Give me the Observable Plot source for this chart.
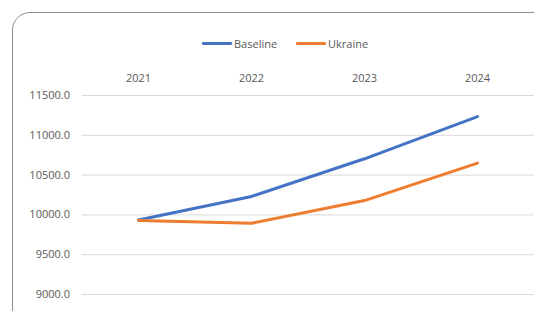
<!DOCTYPE html>
<html>
<head>
<meta charset="utf-8">
<script src="https://cdn.jsdelivr.net/npm/d3@7"></script>
<script src="https://cdn.jsdelivr.net/npm/@observablehq/plot@0.6"></script>
<style>
  html, body { margin: 0; padding: 0; background: #fff; overflow: hidden; }
  #wrap { position: relative; width: 534px; height: 311px; overflow: hidden; font-family: "Open Sans", sans-serif; }
  #card { position: absolute; left: 12px; top: 12px; width: 620px; height: 400px; border: 1px solid #8c8c8c; border-radius: 18px; box-sizing: border-box; }
  #legend { position: absolute; left: 0; top: 36px; width: 534px; height: 18px; }
  .item { position: absolute; top: 0; display: flex; align-items: center; font-size: 11px; color: #595959; }
  .sw { width: 30px; height: 3px; margin-right: 2px; border-radius: 1px; }
  #chart { position: absolute; left: 0; top: 0; }
</style>
</head>
<body>
<div id="wrap">
  <div id="card"></div>
  <div id="chart"></div>
  <div id="legend"></div>
</div>
<script>
const years = ["2021", "2022", "2023", "2024"];
const baseline = [9935, 10232, 10705, 11235];
const ukraine = [9930, 9895, 10180, 10650];
const seriesNames = ["Baseline", "Ukraine"];
const seriesColors = ["#4472C4", "#ED7D31"];
const yTicks = [9000, 9500, 10000, 10500, 11000, 11500];

const rows = [];
years.forEach((y, i) => {
  rows.push({year: y, value: baseline[i], series: seriesNames[0]});
  rows.push({year: y, value: ukraine[i], series: seriesNames[1]});
});

const plot = Plot.plot({
  width: 534,
  height: 311,
  marginTop: 95,
  marginBottom: 17,
  marginLeft: 81.5,
  marginRight: 0.5,
  style: {fontFamily: "'Open Sans', sans-serif", fontSize: "11px", color: "#595959", background: "transparent"},
  x: {type: "point", domain: years, padding: 0.5, axis: null},
  y: {domain: [9000, 11500], ticks: yTicks, axis: null},
  color: {domain: seriesNames, range: seriesColors},
  marks: [
    Plot.gridY(yTicks, {stroke: "#d9d9d9", strokeOpacity: 1, strokeWidth: 1}),
    Plot.axisY({ticks: yTicks, tickSize: 0, tickPadding: 12, tickFormat: d3.format(".1f"), label: null, fill: "#595959"}),
    Plot.axisX({anchor: "top", tickSize: 0, tickPadding: 14, label: null, fill: "#595959"}),
    Plot.line(rows, {x: "year", y: "value", z: "series", stroke: "series", strokeWidth: 3, strokeLinecap: "round", strokeLinejoin: "round"})
  ]
});
document.getElementById("chart").appendChild(plot);

const legend = document.getElementById("legend");
const lefts = [202, 296];
seriesNames.forEach((name, i) => {
  const item = document.createElement("div");
  item.className = "item";
  item.style.left = lefts[i] + "px";
  const sw = document.createElement("div");
  sw.className = "sw";
  sw.style.background = seriesColors[i];
  const t = document.createElement("span");
  t.textContent = name;
  item.appendChild(sw);
  item.appendChild(t);
  legend.appendChild(item);
});
</script>
</body>
</html>
